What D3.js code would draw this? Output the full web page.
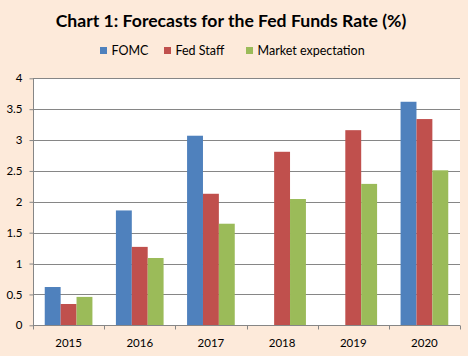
<!DOCTYPE html>
<html>
<head>
<meta charset="utf-8">
<script src="https://cdn.jsdelivr.net/npm/d3@7"></script>
<style>
  html, body { margin: 0; padding: 0; background: #FDEADA; }
  svg { display: block; }
  text { font-family: Lato, "Open Sans", sans-serif; }
</style>
</head>
<body>
<svg id="chart" width="468" height="356"></svg>
<script>
const years = ["2015", "2016", "2017", "2018", "2019", "2020"];
const seriesNames = ["FOMC", "Fed Staff", "Market expectation"];
const fomc = [0.62, 1.86, 3.07, null, null, 3.62];
const fedStaff = [0.345, 1.27, 2.13, 2.81, 3.16, 3.34];
const market = [0.46, 1.09, 1.645, 2.045, 2.29, 2.51];
const yTicks = [0, 0.5, 1, 1.5, 2, 2.5, 3, 3.5, 4];
const colors = ["#4F81BD", "#C0504D", "#9BBB59"];
const title = "Chart 1: Forecasts for the Fed Funds Rate (%)";

const seriesValues = [fomc, fedStaff, market];

const svg = d3.select("#chart");
const W = 468, H = 356;
svg.append("rect").attr("width", W).attr("height", H).attr("fill", "#FDEADA");

const plot = { left: 33, right: 460, top: 78.3, bottom: 325.3 };

svg.append("rect")
  .attr("x", plot.left).attr("y", plot.top)
  .attr("width", plot.right - plot.left).attr("height", plot.bottom - plot.top)
  .attr("fill", "#FFFFFF");

const x0 = d3.scaleBand().domain(years).range([plot.left, plot.right]).paddingInner(0).paddingOuter(0);
const groupPad = 0.33;
const x1 = d3.scaleBand().domain(seriesNames)
  .range([x0.bandwidth() * groupPad / 2, x0.bandwidth() * (1 - groupPad / 2)]).padding(0);
const y = d3.scaleLinear().domain([0, 4]).range([plot.bottom, plot.top]);

// gridlines
svg.append("g").selectAll("line").data(yTicks).join("line")
  .attr("x1", plot.left).attr("x2", plot.right)
  .attr("y1", d => Math.round(y(d)) + 0.5).attr("y2", d => Math.round(y(d)) + 0.5)
  .attr("stroke", "#868686").attr("stroke-width", 1);

// bars
const groups = svg.append("g").selectAll("g").data(years).join("g")
  .attr("transform", d => `translate(${x0(d)},0)`);
groups.selectAll("rect")
  .data((d, i) => seriesNames.map((s, j) => ({ s, j, v: seriesValues[j][i] })).filter(e => e.v != null))
  .join("rect")
  .attr("x", d => x1(d.s))
  .attr("width", x1.bandwidth())
  .attr("y", d => y(d.v))
  .attr("height", d => y(0) - y(d.v))
  .attr("fill", d => colors[d.j]);

// y axis
const yAxis = d3.axisLeft(y).tickValues(yTicks).tickSize(4).tickPadding(7)
  .tickFormat(d => String(d));
const gy = svg.append("g").attr("transform", `translate(${plot.left + 0.5},0)`).call(yAxis);
gy.select(".domain").attr("stroke", "#868686").attr("d", `M0,${plot.top}V${plot.bottom}`);
gy.selectAll(".tick line").attr("stroke", "#868686");
gy.selectAll(".tick text").attr("font-size", 11.5).attr("fill", "#000").attr("font-family", "Lato, sans-serif");

// x axis
const gx = svg.append("g").attr("transform", `translate(0,${Math.round(plot.bottom) + 0.5})`);
gx.append("line").attr("x1", plot.left).attr("x2", plot.right).attr("stroke", "#868686");
const boundaries = years.map(yv => x0(yv)).concat([plot.right]);
gx.selectAll("line.tk").data(boundaries).join("line").attr("class", "tk")
  .attr("x1", d => Math.round(d) + 0.5).attr("x2", d => Math.round(d) + 0.5)
  .attr("y1", 0).attr("y2", 4).attr("stroke", "#868686");
gx.selectAll("text").data(years).join("text")
  .attr("x", d => x0(d) + x0.bandwidth() / 2)
  .attr("y", 21.5)
  .attr("text-anchor", "middle")
  .attr("font-size", 11.5).attr("fill", "#000")
  .text(d => d);

// title
svg.append("text").attr("x", 231).attr("y", 27)
  .attr("text-anchor", "middle")
  .attr("font-size", 17.6).attr("font-weight", "bold").attr("fill", "#000")
  .text(title);

// legend
const legendX = [100, 164, 246];
const lg = svg.append("g").selectAll("g").data(seriesNames).join("g")
  .attr("transform", (d, i) => `translate(${legendX[i]},47)`);
lg.append("rect").attr("width", 7).attr("height", 7).attr("fill", (d, i) => colors[i]);
lg.append("text").attr("x", 11.5).attr("y", 8).attr("font-size", 12.5).attr("fill", "#000").text(d => d);
</script>
</body>
</html>
